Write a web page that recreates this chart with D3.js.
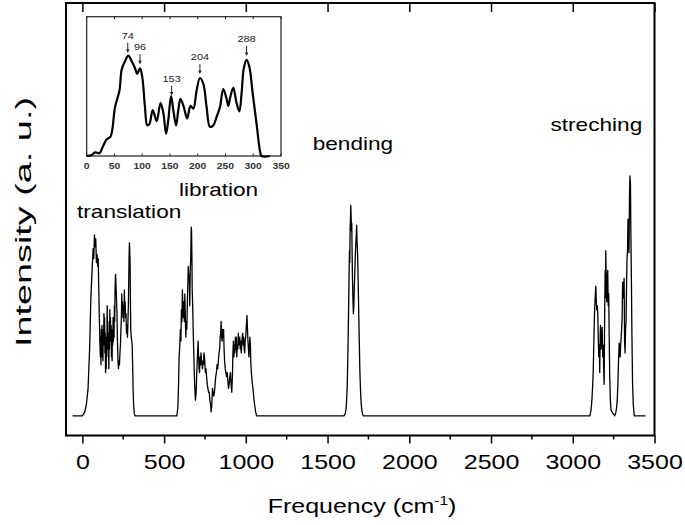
<!DOCTYPE html>
<html><head><meta charset="utf-8">
<script src="https://cdn.jsdelivr.net/npm/d3@7"></script>
<style>body{margin:0;background:#fff}svg{display:block}</style>
</head><body><svg id="c" width="685" height="525"></svg>
<script>
// ---------- data ----------
const xTicks = [0,500,1000,1500,2000,2500,3000,3500];
const xMinorTicks = [250,750,1250,1750,2250,2750,3250];
const insetTicks = [0,50,100,150,200,250,300,350];

const translationBand = [[0,0],[15,2],[25,6],[35,14],[45,35],[52,60],[60,75],[66,85],[70,80],[74,92],[78,86],[82,90],[86,78],[90,82],[94,76],[97,80],[100,66],[104,50],[107,38],[110,30],[112,40],[114,26],[116,44],[118,34],[120,46],[122,30],[124,40],[126,28],[128,44],[130,36],[132,52],[134,40],[136,50],[138,32],[140,42],[142,22],[144,30],[146,24],[148,40],[150,34],[152,56],[154,40],[156,48],[158,30],[160,36],[162,24],[164,42],[166,34],[168,54],[170,42],[172,50],[174,38],[176,46],[178,30],[180,40],[182,28],[184,44],[186,36],[188,50],[190,38],[192,48],[194,40],[196,56],[198,48],[200,64],[203,72],[206,66],[208,62],[210,56],[212,52],[214,40],[216,34],[218,28],[221,24],[224,28],[227,26],[230,32],[233,36],[236,44],[239,50],[241,62],[243,54],[246,58],[249,50],[251,56],[254,48],[257,64],[259,56],[262,58],[264,50],[267,52],[270,42],[273,46],[276,40],[279,48],[282,58],[284,70],[286,82],[288,88],[290,84],[292,78],[294,60],[296,44],[299,40],[302,38],[305,36],[308,24],[311,12],[314,5],[318,1],[322,0]];

const librationBand = [[578,0],[584,4],[588,14],[592,30],[596,36],[600,44],[603,38],[606,54],[609,48],[612,64],[615,56],[618,50],[621,58],[624,48],[627,62],[630,50],[633,40],[636,48],[639,44],[642,56],[645,66],[648,76],[651,70],[654,72],[657,56],[660,74],[663,80],[666,96],[668,94],[670,82],[672,64],[675,56],[678,44],[681,34],[684,24],[688,14],[692,8],[696,12],[700,22],[704,30],[708,38],[711,30],[714,24],[717,22],[720,30],[723,26],[726,32],[729,28],[732,26],[735,24],[738,28],[741,26],[744,32],[747,30],[750,26],[753,22],[756,24],[760,20],[764,16],[768,14],[772,12],[776,12],[780,8],[784,6],[788,2],[792,6],[796,14],[800,12],[804,10],[808,12],[812,16],[816,20],[820,22],[824,26],[828,24],[832,28],[836,32],[840,34],[843,40],[846,42],[849,48],[852,40],[855,38],[858,44],[861,40],[864,44],[867,34],[870,28],[874,24],[878,22],[882,20],[886,22],[890,18],[894,14],[898,16],[902,20],[906,22],[910,16],[914,12],[918,20],[921,32],[924,38],[927,30],[930,36],[933,32],[936,40],[939,34],[942,40],[945,30],[948,36],[951,34],[954,42],[957,38],[960,36],[963,40],[966,34],[969,38],[972,32],[975,36],[978,40],[981,42],[984,36],[987,40],[990,34],[993,32],[996,38],[999,40],[1002,44],[1005,48],[1007,51],[1010,44],[1013,38],[1016,34],[1019,30],[1022,36],[1025,40],[1028,36],[1031,26],[1034,22],[1038,18],[1042,15],[1046,12],[1050,8],[1055,5],[1060,2],[1066,0]];

const bendingBand = [[1600,0],[1608,1],[1614,4],[1620,14],[1624,30],[1628,50],[1631,68],[1634,84],[1636,78],[1638,96],[1640,100],[1642,107],[1644,102],[1646,94],[1648,98],[1650,84],[1652,72],[1655,60],[1658,52],[1661,56],[1664,66],[1667,74],[1670,82],[1673,88],[1676,92],[1678,97],[1680,90],[1683,84],[1686,74],[1690,56],[1694,38],[1698,22],[1702,12],[1706,6],[1711,2],[1718,0]];

const stretchingBand = [[3105,0],[3112,3],[3117,8],[3121,14],[3125,22],[3129,38],[3133,52],[3137,60],[3141,66],[3144,58],[3147,54],[3150,56],[3153,52],[3156,40],[3159,30],[3162,36],[3165,22],[3168,42],[3170,46],[3173,34],[3176,40],[3180,45],[3183,30],[3186,36],[3189,24],[3192,16],[3195,50],[3198,74],[3200,60],[3202,84],[3205,66],[3208,58],[3211,70],[3214,74],[3217,56],[3220,62],[3223,40],[3226,20],[3230,8],[3234,3],[3240,2],[3248,1],[3257,0],[3264,2],[3268,4],[3272,8],[3276,16],[3280,28],[3284,37],[3287,34],[3290,30],[3293,36],[3296,40],[3299,44],[3302,50],[3305,68],[3308,64],[3311,60],[3314,70],[3317,38],[3320,32],[3323,44],[3326,48],[3329,66],[3332,80],[3335,84],[3338,100],[3341,96],[3344,83],[3347,112],[3350,122],[3353,118],[3356,88],[3359,67],[3362,40],[3366,16],[3370,6],[3376,0]];

const spectrumStart = [-60,0];
const spectrumEnd = [3445,0];

const insetSpectrum = [[0,0],[9,0.7],[15,2.6],[23,2],[29,6.7],[36,12],[43,14],[51,35],[59,47],[63,62],[69,68],[75,72],[81,68],[87,63],[91,59],[96,63],[100,57],[105,35],[109,22],[113,23],[119,33],[126,25],[133,38],[138,31],[143,16],[147,26],[152,43],[156,33],[161,22],[165,33],[169,41],[175,35],[181,27],[187,36],[192,34],[198,47],[204,56],[210,52],[216,35],[222,21],[228,22],[234,28],[240,35],[246,48],[252,41],[255,36],[259,43],[264,49],[270,38],[275,32],[279,45],[283,63],[288,69],[293,64],[299,45],[306,23],[312,4],[315,0],[330,0]];

const peakFreqs = [74,96,153,204,288];
const peakLabels = ["74","96","153","204","288"];

const bandLabels = ["translation","libration","bending","streching"];
const xLabel = "Frequency (cm";
const xLabelSup = "-1";
const yLabel = "Intensity (a. u.)";

// ---------- drawing ----------
const FONT = "'Liberation Sans', Arial, Helvetica, sans-serif";
const SX = 1.19; // horizontal stretch of glyphs in reference
const svg = d3.select("#c");

const x = d3.scaleLinear().domain([-100,3500]).range([66,654.5]);
const y = d3.scaleLinear().domain([-10,210]).range([435.5,3]);

const spectrum = [spectrumStart, ...translationBand, ...librationBand, ...bendingBand, ...stretchingBand, spectrumEnd];

const line = d3.line().x(d=>x(d[0])).y(d=>y(d[1]));
svg.append("path").datum(spectrum).attr("d", line)
  .attr("fill","none").attr("stroke","#000").attr("stroke-width",1.3).attr("stroke-linejoin","round");

// bottom axis
const gB = svg.append("g").attr("transform","translate(0,435.5)");
gB.call(d3.axisBottom(x).tickValues(xTicks).tickSize(8).tickPadding(11).tickFormat(d3.format("d")));
gB.select(".domain").remove();
gB.selectAll(".tick line").attr("stroke","#000").attr("stroke-width",1.5);
gB.selectAll(".tick text").attr("font-family",FONT).attr("font-size",21).attr("fill","#000")
  .attr("transform",`scale(${SX},1)`);
gB.selectAll(".minor").data(xMinorTicks).enter().append("line")
  .attr("x1",d=>x(d)).attr("x2",d=>x(d)).attr("y1",0).attr("y2",4)
  .attr("stroke","#000").attr("stroke-width",1.5);

// top axis (inward ticks)
const gT = svg.append("g").attr("transform","translate(0,3)");
gT.call(d3.axisBottom(x).tickValues(xTicks).tickSize(9).tickFormat(""));
gT.select(".domain").remove();
gT.selectAll(".tick line").attr("stroke","#000").attr("stroke-width",1.5);

// frame
svg.append("rect").attr("x",x(-100)).attr("y",y(210)).attr("width",x(3500)-x(-100)).attr("height",y(-10)-y(210))
  .attr("fill","none").attr("stroke","#000").attr("stroke-width",2);

// axis titles
const xt = svg.append("text").attr("transform",`translate(362,513) scale(${SX},1)`)
  .attr("text-anchor","middle").attr("font-family",FONT).attr("font-size",21).attr("fill","#000");
xt.append("tspan").text(xLabel);
xt.append("tspan").attr("dy",-8).attr("font-size",13).text(xLabelSup);
xt.append("tspan").attr("dy",8).text(")");

svg.append("text").attr("transform","translate(31,222) rotate(-90)")
  .attr("text-anchor","middle").attr("font-family",FONT).attr("font-size",22).attr("fill","#000")
  .attr("textLength",250).attr("lengthAdjust","spacingAndGlyphs").text(yLabel);

// band labels
const bandPos = [[77,218],[179,196],[312.7,150],[550.5,131]];
bandLabels.forEach((t,i)=>{
  svg.append("text").attr("transform",`translate(${bandPos[i][0]},${bandPos[i][1]}) scale(${SX},1)`)
    .attr("font-family",FONT).attr("font-size",19).attr("fill","#000").text(t);
});

// ---------- inset ----------
const ix = d3.scaleLinear().domain([0,350]).range([86.7,281]);
const iy = d3.scaleLinear().domain([0,100]).range([156,16.7]);
const inset = svg.append("g");
inset.append("rect").attr("x",ix(0)).attr("y",iy(100)).attr("width",ix(350)-ix(0)).attr("height",iy(0)-iy(100))
  .attr("fill","#fff").attr("stroke","#222").attr("stroke-width",1.2);
inset.selectAll(".itb").data(insetTicks).enter().append("line")
  .attr("x1",d=>ix(d)).attr("x2",d=>ix(d)).attr("y1",iy(0)).attr("y2",iy(0)-2.5)
  .attr("stroke","#222").attr("stroke-width",1);
inset.selectAll(".itt").data(insetTicks).enter().append("line")
  .attr("x1",d=>ix(d)).attr("x2",d=>ix(d)).attr("y1",iy(100)).attr("y2",iy(100)+2.5)
  .attr("stroke","#222").attr("stroke-width",1);
inset.selectAll(".itl").data(insetTicks).enter().append("text")
  .attr("transform",d=>`translate(${ix(d)},169) scale(1.15,1)`)
  .attr("text-anchor","middle").attr("font-family",FONT).attr("font-size",9).attr("font-weight","bold")
  .attr("fill","#333").text(d=>d);
const iline = d3.line().x(d=>ix(d[0])).y(d=>iy(d[1])).curve(d3.curveCatmullRom.alpha(0.5));
inset.append("path").datum(insetSpectrum).attr("d",iline)
  .attr("fill","none").attr("stroke","#000").attr("stroke-width",2.2).attr("stroke-linejoin","round");

// annotations
function insetValueAt(f){
  for(let i=1;i<insetSpectrum.length;i++){
    const a=insetSpectrum[i-1], b=insetSpectrum[i];
    if(f<=b[0]){ const t=(f-a[0])/(b[0]-a[0]); return a[1]+t*(b[1]-a[1]); }
  }
  return 0;
}
peakFreqs.forEach((f,i)=>{
  const px = ix(f), py = iy(insetValueAt(f));
  const tip = py-4, top = tip-10;
  inset.append("line").attr("x1",px).attr("x2",px).attr("y1",top).attr("y2",tip-3)
    .attr("stroke","#222").attr("stroke-width",1);
  inset.append("path").attr("d",`M${px-1.8},${tip-3.5}L${px+1.8},${tip-3.5}L${px},${tip}Z`).attr("fill","#222");
  inset.append("text").attr("transform",`translate(${px},${top-4}) scale(1.15,1)`)
    .attr("text-anchor","middle").attr("font-family",FONT).attr("font-size",9.5).attr("fill","#222").text(peakLabels[i]);
});
</script></body></html>
